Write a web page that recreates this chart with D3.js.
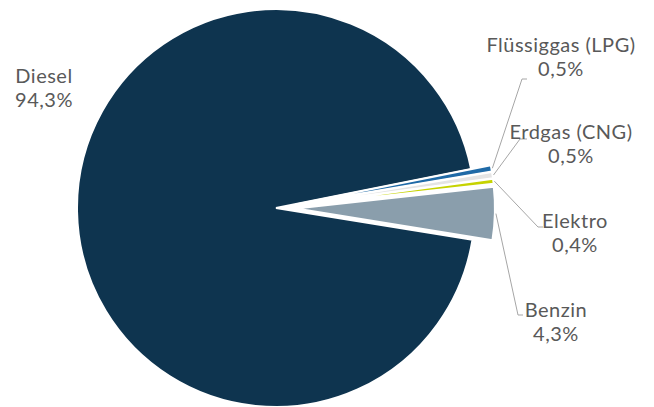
<!DOCTYPE html>
<html>
<head>
<meta charset="utf-8">
<script src="https://cdn.jsdelivr.net/npm/d3@7/dist/d3.min.js"></script>
<style>
  html, body { margin: 0; padding: 0; background: #fff; }
  svg { display: block; }
  text { font-family: Lato, "Open Sans", sans-serif; fill: #595959; letter-spacing: 0.5px; }
</style>
</head>
<body>
<svg id="chart" width="654" height="407"></svg>
<script>
// Fuel types and their shares (%)
const fuels  = ["Diesel", "Flüssiggas (LPG)", "Erdgas (CNG)", "Elektro", "Benzin"];
const shares = [94.3, 0.5, 0.5, 0.4, 4.3];
const valueLabels = ["94,3%", "0,5%", "0,5%", "0,4%", "4,3%"];

const colors = d3.scaleOrdinal()
  .domain(fuels)
  .range(["#0e344f", "#1f6aa7", "#e4e4e4", "#c6d300", "#8a9eac"]);

const cx = 276, cy = 208, R = 199;
const explode = 20;               // offset of the pulled-out slices
const deg = Math.PI / 180;
const startAngle = 99.2 * deg;

const svg = d3.select("#chart");
const g = svg.append("g").attr("transform", `translate(${cx},${cy})`);

const pie = d3.pie().sort(null).value(d => d.value)
  .startAngle(startAngle).endAngle(startAngle + 2 * Math.PI);

const data = fuels.map((f, i) => ({ name: f, value: shares[i], label: valueLabels[i] }));
const arcs = pie(data);
const arc = d3.arc().innerRadius(0).outerRadius(R);

function offset(a, i) {
  if (i === 0) return [0, 0];
  const mid = (a.startAngle + a.endAngle) / 2;
  return [Math.sin(mid) * explode, -Math.cos(mid) * explode];
}

g.selectAll("path.slice")
  .data(arcs)
  .join("path")
  .attr("class", "slice")
  .attr("transform", (a, i) => `translate(${offset(a, i)})`)
  .attr("d", arc)
  .attr("fill", a => colors(a.data.name))
  .attr("stroke", "#fff")
  .attr("stroke-width", 2)
  .attr("stroke-linejoin", "miter");

// Label layout: elbow point of each leader and text centre / first baseline
const labelLayout = {
  "Diesel":           { text: [44, 83] },
  "Flüssiggas (LPG)": { elbow: [522, 79],  end: [527, 79],  text: [561, 52] },
  "Erdgas (CNG)":     { elbow: [520, 139], end: [527, 139], text: [571, 139] },
  "Elektro":          { elbow: [538, 227], end: [543, 227], text: [575, 228] },
  "Benzin":           { elbow: [518, 315], end: [523, 315], text: [556, 317] }
};

const lines = svg.append("g");
const labels = svg.append("g");

arcs.forEach((a, i) => {
  const lay = labelLayout[a.data.name];
  if (lay.elbow) {
    const mid = (a.startAngle + a.endAngle) / 2;
    const [ox, oy] = offset(a, i);
    const sx = cx + ox + Math.sin(mid) * (R + 1);
    const sy = cy + oy - Math.cos(mid) * (R + 1);
    lines.append("polyline")
      .attr("points", [[sx, sy], lay.elbow, lay.end].map(p => p.join(",")).join(" "))
      .attr("fill", "none")
      .attr("stroke", "#a6a6a6")
      .attr("stroke-width", 1);
  }
  const t = labels.append("text")
    .attr("x", lay.text[0])
    .attr("y", lay.text[1])
    .attr("text-anchor", "middle")
    .attr("font-size", 20);
  t.append("tspan").attr("x", lay.text[0]).text(a.data.name);
  t.append("tspan").attr("x", lay.text[0]).attr("dy", 24).text(a.data.label);
});
</script>
</body>
</html>
